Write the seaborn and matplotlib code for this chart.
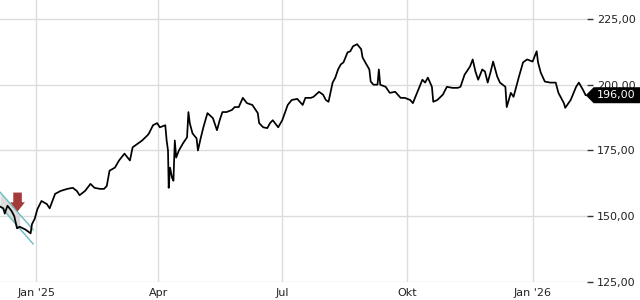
import matplotlib
matplotlib.use("Agg")
import matplotlib.pyplot as plt
import matplotlib.dates as mdates
from matplotlib.patches import Polygon, FancyArrow
from matplotlib.transforms import IdentityTransform
import seaborn as sns
import pandas as pd
import numpy as np

dates = [
    "2024-12-05", "2024-12-08", "2024-12-09", "2024-12-11", "2024-12-14", "2024-12-16",
    "2024-12-18", "2024-12-20", "2024-12-24", "2024-12-28", "2024-12-29", "2024-12-31",
    "2025-01-02", "2025-01-05", "2025-01-09", "2025-01-11", "2025-01-15", "2025-01-19",
    "2025-01-24", "2025-01-28", "2025-01-31", "2025-02-02", "2025-02-06", "2025-02-10",
    "2025-02-13", "2025-02-17", "2025-02-20", "2025-02-22", "2025-02-24", "2025-02-28",
    "2025-03-03", "2025-03-07", "2025-03-11", "2025-03-13", "2025-03-17", "2025-03-20",
    "2025-03-24", "2025-03-25", "2025-03-28", "2025-03-31", "2025-04-02", "2025-04-06",
    "2025-04-07", "2025-04-08 00:00", "2025-04-08 12:00", "2025-04-09 12:00", "2025-04-11",
    "2025-04-12", "2025-04-13", "2025-04-14", "2025-04-16", "2025-04-19", "2025-04-22",
    "2025-04-23", "2025-04-24", "2025-04-26", "2025-04-29", "2025-04-30", "2025-05-02",
    "2025-05-04", "2025-05-07", "2025-05-11", "2025-05-14", "2025-05-16", "2025-05-18",
    "2025-05-21", "2025-05-25", "2025-05-27", "2025-05-30", "2025-06-02", "2025-06-05",
    "2025-06-09", "2025-06-13", "2025-06-14", "2025-06-17", "2025-06-20", "2025-06-22",
    "2025-06-24", "2025-06-28", "2025-07-01", "2025-07-03", "2025-07-05", "2025-07-08",
    "2025-07-12", "2025-07-16", "2025-07-18", "2025-07-22", "2025-07-24", "2025-07-28",
    "2025-07-31", "2025-08-02", "2025-08-04", "2025-08-07", "2025-08-09", "2025-08-11",
    "2025-08-13", "2025-08-15", "2025-08-18", "2025-08-20", "2025-08-22", "2025-08-25",
    "2025-08-28", "2025-08-29", "2025-08-31", "2025-09-03", "2025-09-04", "2025-09-06",
    "2025-09-09", "2025-09-10", "2025-09-11", "2025-09-15", "2025-09-18", "2025-09-22",
    "2025-09-26", "2025-09-29", "2025-10-03", "2025-10-05", "2025-10-09", "2025-10-12",
    "2025-10-14", "2025-10-16", "2025-10-19", "2025-10-20", "2025-10-23", "2025-10-27",
    "2025-10-30", "2025-11-03", "2025-11-07", "2025-11-09", "2025-11-12", "2025-11-16",
    "2025-11-18", "2025-11-20", "2025-11-22", "2025-11-25", "2025-11-27", "2025-11-29",
    "2025-12-01", "2025-12-03", "2025-12-06", "2025-12-08", "2025-12-12", "2025-12-13",
    "2025-12-16", "2025-12-18", "2025-12-21", "2025-12-22", "2025-12-25", "2025-12-28",
    "2026-01-01", "2026-01-04", "2026-01-05", "2026-01-07", "2026-01-10", "2026-01-14",
    "2026-01-18", "2026-01-20", "2026-01-24", "2026-01-25", "2026-01-29", "2026-02-02",
    "2026-02-04", "2026-02-07", "2026-02-09",
]
prices = [
    153.8, 153.0, 151.0, 154.0, 152.0, 150.0,
    145.4, 146.0, 145.0, 143.5, 147.0, 149.0,
    152.7, 155.8, 154.6, 153.0, 158.5, 159.6,
    160.4, 160.8, 159.6, 158.0, 159.6, 162.3,
    160.8, 160.4, 160.4, 161.5, 167.3, 168.5,
    171.2, 173.8, 171.2, 176.2, 177.7, 178.8,
    180.8, 181.5, 184.6, 185.4, 183.8, 184.6,
    178.8, 175.0, 160.8, 168.5, 164.6,
    163.5, 178.8, 172.3, 175.0, 177.7, 180.0,
    189.6, 185.4, 181.5, 179.6, 175.0, 179.6,
    183.8, 189.2, 187.3, 182.7, 186.5, 189.6,
    189.6, 190.4, 191.5, 191.5, 195.0, 193.0,
    192.3, 189.2, 185.4, 183.8, 183.5, 185.4,
    186.5, 183.8, 186.5, 189.4, 192.3, 194.2,
    194.6, 192.3, 195.0, 195.0, 195.4, 197.3,
    196.2, 194.2, 193.5, 200.8, 202.7, 205.8,
    207.7, 208.5, 212.3, 212.7, 214.6, 215.4,
    213.5, 210.4, 208.5, 205.8, 201.2, 200.0,
    200.0, 205.8, 200.0, 199.2, 196.9, 197.3,
    195.0, 195.0, 194.2, 193.0, 198.1, 201.9,
    200.8, 202.7, 199.2, 193.5, 194.2, 196.2,
    199.2, 198.8, 198.8, 199.2, 203.8, 206.9,
    209.6, 205.0, 201.9, 205.8, 205.0, 200.8,
    204.6, 208.8, 203.1, 200.8, 199.2, 191.5,
    196.9, 195.4, 201.2, 203.1, 208.5, 209.6,
    208.8, 212.7, 208.5, 204.6, 201.2, 200.8,
    200.8, 196.9, 193.0, 191.2, 194.2, 199.2,
    200.8, 198.1, 196.0,
]

# trend channel (start/end dates and values for upper and lower bound)
channel_dates = ["2024-12-05 12:00", "2024-12-30 00:00"]
channel_upper = [159.2, 144.8]
channel_lower = [153.9, 139.4]
channel_fill_end = "2024-12-20"

# signal arrow
arrow_date = "2024-12-18 10:00"
arrow_top = 159.0
arrow_tip = 151.8

y_ticks = [125, 150, 175, 200, 225]
x_tick_dates = ["2025-01-01", "2025-04-01", "2025-07-01", "2025-10-01", "2026-01-01"]
x_tick_labels = ["Jan '25", "Apr", "Jul", "Okt", "Jan '26"]
last_price = 196.00

sns.set_style("white")
plt.rcParams["font.family"] = ["DejaVu Sans"]

df = pd.DataFrame({"date": pd.to_datetime(dates, format="mixed"), "price": prices})

fig = plt.figure(figsize=(6.4, 3.0), dpi=100)
ax = fig.add_axes([0.0, 18 / 300, 587 / 640, 282 / 300])

# grid
for v in y_ticks:
    ax.axhline(v, color="#dcdcdc", lw=1.0, zorder=0)
for d in x_tick_dates:
    ax.axvline(pd.Timestamp(d), color="#dcdcdc", lw=1.0, zorder=0)

# channel
cd = pd.to_datetime(channel_dates, format="mixed")
cdn = mdates.date2num(cd)
fe = mdates.date2num(pd.Timestamp(channel_fill_end))
frac = (fe - cdn[0]) / (cdn[1] - cdn[0])
fx = np.array([cdn[0], fe])
fu = np.array([channel_upper[0], channel_upper[0] + frac * (channel_upper[1] - channel_upper[0])])
fl = np.array([channel_lower[0], channel_lower[0] + frac * (channel_lower[1] - channel_lower[0])])
ax.fill_between(fx, fl, fu, color="#d6d6d6", alpha=0.85, lw=0, zorder=1)
ax.plot(cdn, channel_upper, color="#6bbcbf", lw=1.0, zorder=2)
ax.plot(cdn, channel_lower, color="#6bbcbf", lw=1.0, zorder=2)

# price line
sns.lineplot(data=df, x="date", y="price", ax=ax, color="black", lw=1.25, zorder=3)

# arrow
an = mdates.date2num(pd.Timestamp(arrow_date))
arr = FancyArrow(an, arrow_top, 0, arrow_tip - arrow_top, width=6.3, head_width=10.8,
                 head_length=3.5, length_includes_head=True, color="#a33b3b", lw=0, zorder=4)
ax.add_patch(arr)

ax.set_xlim(mdates.date2num(pd.Timestamp("2024-12-05 12:00")), mdates.date2num(pd.Timestamp("2026-02-10")))
ax.set_ylim(125, 232.2)

ax.set_xlabel("")
ax.set_ylabel("")
for s in ax.spines.values():
    s.set_visible(False)

ax.yaxis.tick_right()
ax.set_yticks(y_ticks)
ax.set_yticklabels([f"{v:.2f}".replace(".", ",") for v in y_ticks], fontsize=8, color="#222222")
ax.tick_params(axis="y", which="major", length=4, width=1, color="#333333", pad=3, direction="out")

ax.set_xticks(mdates.date2num(pd.to_datetime(x_tick_dates)))
ax.set_xticklabels(x_tick_labels, fontsize=8, color="#222222")
ax.tick_params(axis="x", which="major", length=3, width=1, color="#222222", pad=1, direction="out")

# last price label
fig.canvas.draw()
lx = mdates.date2num(df["date"].iloc[-1])
px, py = ax.transData.transform((lx, last_price))
tip_x = px
h = 8
box = Polygon([(tip_x, py), (tip_x + 8, py + h), (640, py + h), (640, py - h), (tip_x + 8, py - h)],
              closed=True, transform=IdentityTransform(), facecolor="black", edgecolor="none", zorder=10)
fig.add_artist(box)
fig.text((tip_x + 11) / 640, py / 300, f"{last_price:.2f}".replace(".", ","), color="white",
         fontsize=8, ha="left", va="center", zorder=11)

fig.savefig("out.png", dpi=100)
